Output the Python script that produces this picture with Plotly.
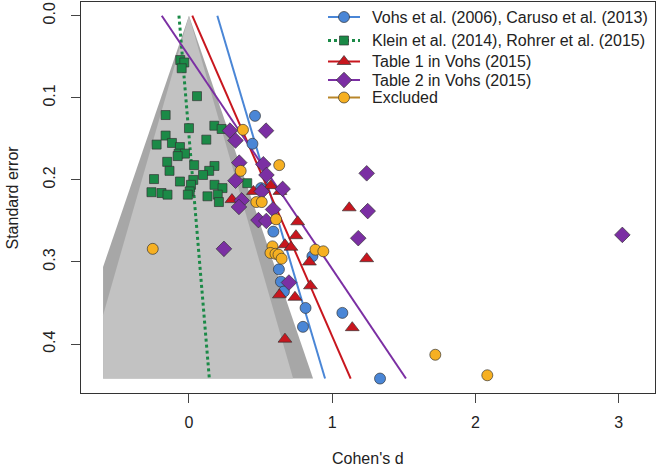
import plotly.graph_objects as go

# ---------------- data ----------------
se_max = 0.442            # bottom of funnel / regression lines
funnel_z = [1.96, 1.645]  # outer (95%) and inner (90%) contours
funnel_left_limit = -0.6

# Series: Cohen's d (x) and standard error (y)
vohs_d = [0.461, 0.443, 0.503, 0.589, 0.628, 0.642, 0.663, 0.862, 0.814, 0.796, 1.071, 1.334]
vohs_se = [0.122, 0.156, 0.210, 0.263, 0.309, 0.324, 0.336, 0.293, 0.356, 0.379, 0.362, 0.442]

klein_d = [-0.061, -0.033, -0.051, 0.056, -0.163, 0.177, 0.228, 0.000, -0.163, -0.119,
           0.121, -0.226, -0.063, -0.072, -0.028, -0.079, -0.152, -0.136, 0.036, 0.178,
           0.141, 0.098, 0.030, -0.244, -0.063, 0.014, 0.005, 0.178, 0.234, 0.407,
           -0.262, -0.192, -0.150, -0.008, 0.129, 0.201, 0.209]
klein_se = [0.054, 0.057, 0.064, 0.098, 0.121, 0.134, 0.138, 0.137, 0.146, 0.155,
            0.151, 0.157, 0.160, 0.168, 0.168, 0.171, 0.178, 0.189, 0.182, 0.183,
            0.189, 0.194, 0.200, 0.199, 0.202, 0.206, 0.214, 0.206, 0.210, 0.204,
            0.215, 0.216, 0.218, 0.218, 0.220, 0.218, 0.227]

table1_d = [0.300, 0.450, 0.571, 0.635, 0.759, 0.747, 0.670, 0.712, 0.841, 0.848,
            0.631, 0.740, 0.670, 1.119, 1.241, 1.140]
table1_se = [0.224, 0.214, 0.207, 0.214, 0.251, 0.268, 0.279, 0.282, 0.300, 0.329,
             0.340, 0.343, 0.394, 0.234, 0.296, 0.380]

table2_d = [0.286, 0.325, 0.538, 0.351, 0.325, 0.519, 0.541, 0.654, 0.508, 0.368,
            0.349, 0.587, 0.485, 0.540, 0.244, 0.698, 1.241, 1.248, 1.182, 3.026]
table2_se = [0.140, 0.152, 0.140, 0.179, 0.201, 0.181, 0.194, 0.211, 0.214, 0.225,
             0.233, 0.236, 0.249, 0.250, 0.284, 0.325, 0.192, 0.238, 0.271, 0.267]

excl_d = [0.377, 0.630, 0.361, 0.470, 0.508, 0.608, 0.583, 0.569, 0.604, 0.625,
          0.647, -0.253, 0.883, 0.938, 1.720, 2.083]
excl_se = [0.139, 0.182, 0.189, 0.227, 0.227, 0.248, 0.281, 0.289, 0.290, 0.291,
           0.296, 0.284, 0.285, 0.287, 0.413, 0.438]

# regression lines: d at SE = 0 and at SE = se_max
line_d_top = {"vohs": 0.198, "klein": -0.070, "t1": 0.023, "t2": -0.190}
line_d_bottom = {"vohs": 0.950, "klein": 0.142, "t1": 1.129, "t2": 1.515}

legend_names = ["Vohs et al. (2006), Caruso et al. (2013)",
                "Klein et al. (2014), Rohrer et al. (2015)",
                "Table 1 in Vohs (2015)",
                "Table 2 in Vohs (2015)",
                "Excluded"]

x_ticks = [0, 1, 2, 3]
y_ticks = [0.0, 0.1, 0.2, 0.3, 0.4]

# ---------------- styles / layout ----------------
W, H = 656, 475
PL, PR, PT, PB = 81, 655, 2, 393   # plot box in pixels

BLUE = "#4A86D6"
GREEN = "#1B8A47"
RED = "#C8161E"
PURPLE = "#7B2FA3"
YELLOW = "#F6B022"
OUT = "rgba(50,50,50,0.85)"
FONT = "Liberation Sans, Arial, sans-serif"
TXT = "#222222"

fig = go.Figure()


def funnel_polygon(z):
    se_hit = -funnel_left_limit / z
    xs = [0, z * se_max, funnel_left_limit, funnel_left_limit, 0]
    ys = [0, se_max, se_max, se_hit, 0]
    return xs, ys


for z, col in zip(funnel_z, ["#A7A7A7", "#C2C2C2"]):
    xs, ys = funnel_polygon(z)
    fig.add_trace(go.Scatter(x=xs, y=ys, mode="lines", fill="toself", fillcolor=col,
                             line=dict(width=0), hoverinfo="skip", showlegend=False))

line_styles = {
    "vohs": dict(color=BLUE, width=2),
    "klein": dict(color=GREEN, width=3, dash="dot"),
    "t1": dict(color=RED, width=2),
    "t2": dict(color=PURPLE, width=2),
}
for key in ["klein", "vohs", "t1", "t2"]:
    fig.add_trace(go.Scatter(x=[line_d_top[key], line_d_bottom[key]], y=[0, se_max],
                             mode="lines", line=line_styles[key], showlegend=False,
                             hoverinfo="skip"))

series = [
    (klein_d, klein_se, GREEN, "square", 9),
    (vohs_d, vohs_se, BLUE, "circle", 11),
    (table1_d, table1_se, RED, "triangle-up", 12),
    (table2_d, table2_se, PURPLE, "diamond", 12),
    (excl_d, excl_se, YELLOW, "circle", 11),
]
for xs, ys, col, sym, sz in series:
    fig.add_trace(go.Scatter(x=xs, y=ys, mode="markers", showlegend=False,
                             marker=dict(color=col, symbol=sym, size=sz,
                                         line=dict(color=OUT, width=0.8))))

# ---------------- manual legend (overlay axes in pixel units) ----------------
leg_y = [17, 40.5, 61.5, 80, 97.5]
leg_line_x = [328, 360]
leg_marker_x = 344
leg_text_x = 370
leg_specs = [
    (BLUE, "circle", 11, dict(color=BLUE, width=2)),
    (GREEN, "square", 9, dict(color=GREEN, width=3, dash="dot")),
    (RED, "triangle-up", 12, dict(color=RED, width=2)),
    (PURPLE, "diamond", 12, dict(color=PURPLE, width=2)),
    (YELLOW, "circle", 11, dict(color="#B8862A", width=2)),
]
for name, yy, (col, sym, sz, ln) in zip(legend_names, leg_y, leg_specs):
    fig.add_trace(go.Scatter(x=leg_line_x, y=[yy, yy], mode="lines", line=ln,
                             xaxis="x2", yaxis="y2", showlegend=False, hoverinfo="skip"))
    fig.add_trace(go.Scatter(x=[leg_marker_x], y=[yy], mode="markers",
                             marker=dict(color=col, symbol=sym, size=sz,
                                         line=dict(color=OUT, width=0.8)),
                             xaxis="x2", yaxis="y2", showlegend=False, hoverinfo="skip"))
    fig.add_annotation(x=leg_text_x, y=yy, xref="x2", yref="y2", text=name,
                       showarrow=False, xanchor="left", yanchor="middle",
                       font=dict(family=FONT, size=16, color=TXT))

axis_common = dict(showline=True, linecolor="#333333", linewidth=1, mirror=True,
                   ticks="outside", ticklen=9, tickcolor="#444444", tickwidth=1,
                   showgrid=False, zeroline=False, automargin=False,
                   tickfont=dict(family=FONT, size=16, color=TXT))

fig.update_layout(
    width=W, height=H,
    margin=dict(l=PL, r=W - PR, t=PT, b=H - PB),
    paper_bgcolor="white", plot_bgcolor="white",
    font=dict(family=FONT, size=16, color=TXT),
    showlegend=False,
    xaxis=dict(range=[-0.754, 3.254], tickvals=x_ticks, ticktext=[str(v) for v in x_ticks],
               ticklabelstandoff=6, **axis_common),
    yaxis=dict(range=[0.4596, -0.0167], tickvals=y_ticks,
               ticktext=[f"{v:.1f}" for v in y_ticks], tickangle=-90,
               ticklabelstandoff=10, **axis_common),
    xaxis2=dict(overlaying="x", range=[PL, PR], visible=False, fixedrange=True),
    yaxis2=dict(overlaying="y", range=[PB, PT], visible=False, fixedrange=True),
)
# axis titles placed as annotations in paper space
fig.add_annotation(text="Cohen's d", x=(368 - PL) / (PR - PL), y=-(458 - PB) / (PB - PT),
                   xref="paper", yref="paper", showarrow=False, xanchor="center",
                   yanchor="middle", font=dict(family=FONT, size=16, color=TXT))
fig.add_annotation(text="Standard error", x=-(PL - 12) / (PR - PL), y=0.5,
                   xref="paper", yref="paper", showarrow=False, textangle=-90,
                   xanchor="center", yanchor="middle",
                   font=dict(family=FONT, size=16, color=TXT))

fig.write_html("out.html", config={"displayModeBar": False},
               post_script="document.body.style.margin='0';document.body.style.padding='0';")
